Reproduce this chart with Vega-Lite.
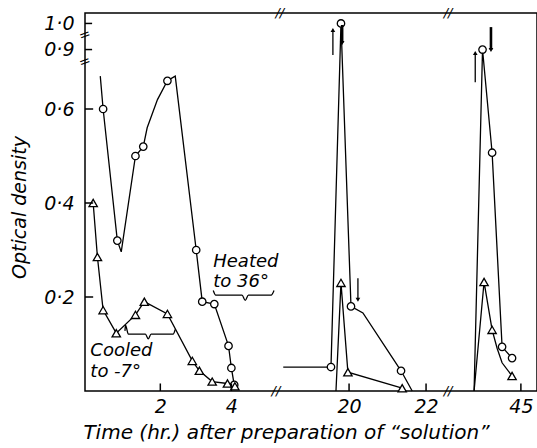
{
  "$schema": "https://vega.github.io/schema/vega-lite/v6.json",
  "width": 452,
  "height": 378,
  "autosize": {"type": "none"},
  "padding": {"left": 85, "top": 13, "right": 0, "bottom": 57},
  "background": "white",
  "view": {"stroke": "black", "strokeWidth": 1.5, "fill": null},
  "config": {
    "font": "DejaVu Sans",
    "axis": {"grid": false, "labelColor": "black", "titleColor": "black"}
  },
  "datasets": {
    "curves": [
      {"series": "circle", "seg": 1, "t": 0.31, "od": 0.67, "obs": false},
      {"series": "circle", "seg": 1, "t": 0.39, "od": 0.60, "obs": true},
      {"series": "circle", "seg": 1, "t": 0.79, "od": 0.32, "obs": true},
      {"series": "circle", "seg": 1, "t": 0.90, "od": 0.296, "obs": false},
      {"series": "circle", "seg": 1, "t": 1.30, "od": 0.50, "obs": true},
      {"series": "circle", "seg": 1, "t": 1.52, "od": 0.52, "obs": true},
      {"series": "circle", "seg": 1, "t": 1.63, "od": 0.56, "obs": false},
      {"series": "circle", "seg": 1, "t": 1.92, "od": 0.62, "obs": false},
      {"series": "circle", "seg": 1, "t": 2.20, "od": 0.66, "obs": true},
      {"series": "circle", "seg": 1, "t": 2.42, "od": 0.67, "obs": false},
      {"series": "circle", "seg": 1, "t": 3.01, "od": 0.30, "obs": true},
      {"series": "circle", "seg": 1, "t": 3.18, "od": 0.19, "obs": true},
      {"series": "circle", "seg": 1, "t": 3.52, "od": 0.185, "obs": true},
      {"series": "circle", "seg": 1, "t": 3.92, "od": 0.096, "obs": true},
      {"series": "circle", "seg": 1, "t": 4.0, "od": 0.049, "obs": true},
      {"series": "circle", "seg": 1, "t": 4.08, "od": 0.013, "obs": true},
      {"series": "triangle", "seg": 1, "t": 0.11, "od": 0.40, "obs": true},
      {"series": "triangle", "seg": 1, "t": 0.23, "od": 0.285, "obs": true},
      {"series": "triangle", "seg": 1, "t": 0.39, "od": 0.172, "obs": true},
      {"series": "triangle", "seg": 1, "t": 0.76, "od": 0.123, "obs": true},
      {"series": "triangle", "seg": 1, "t": 1.30, "od": 0.162, "obs": true},
      {"series": "triangle", "seg": 1, "t": 1.55, "od": 0.19, "obs": true},
      {"series": "triangle", "seg": 1, "t": 2.20, "od": 0.164, "obs": true},
      {"series": "triangle", "seg": 1, "t": 2.90, "od": 0.064, "obs": true},
      {"series": "triangle", "seg": 1, "t": 3.10, "od": 0.043, "obs": true},
      {"series": "triangle", "seg": 1, "t": 3.46, "od": 0.02, "obs": true},
      {"series": "triangle", "seg": 1, "t": 3.89, "od": 0.016, "obs": true},
      {"series": "triangle", "seg": 1, "t": 4.10, "od": 0.01, "obs": true},
      {"series": "circle", "seg": 2, "t": 18.29, "od": 0.051, "obs": false},
      {"series": "circle", "seg": 2, "t": 19.53, "od": 0.051, "obs": true},
      {"series": "circle", "seg": 2, "t": 19.79, "od": 1.0, "obs": true},
      {"series": "circle", "seg": 2, "t": 20.05, "od": 0.18, "obs": true},
      {"series": "circle", "seg": 2, "t": 20.36, "od": 0.166, "obs": false},
      {"series": "circle", "seg": 2, "t": 21.35, "od": 0.043, "obs": true},
      {"series": "circle", "seg": 2, "t": 21.64, "od": 0.0, "obs": false},
      {"series": "triangle", "seg": 2, "t": 19.66, "od": 0.0, "obs": false},
      {"series": "triangle", "seg": 2, "t": 19.79, "od": 0.23, "obs": true},
      {"series": "triangle", "seg": 2, "t": 19.97, "od": 0.04, "obs": true},
      {"series": "triangle", "seg": 2, "t": 21.38, "od": 0.006, "obs": true},
      {"series": "circle", "seg": 3, "t": 43.78, "od": 0.0, "obs": false},
      {"series": "circle", "seg": 3, "t": 44.0, "od": 0.9, "obs": true},
      {"series": "circle", "seg": 3, "t": 44.25, "od": 0.507, "obs": true},
      {"series": "circle", "seg": 3, "t": 44.51, "od": 0.094, "obs": true},
      {"series": "circle", "seg": 3, "t": 44.77, "od": 0.07, "obs": true},
      {"series": "triangle", "seg": 3, "t": 43.78, "od": 0.0, "obs": false},
      {"series": "triangle", "seg": 3, "t": 44.04, "od": 0.232, "obs": true},
      {"series": "triangle", "seg": 3, "t": 44.25, "od": 0.13, "obs": true},
      {"series": "triangle", "seg": 3, "t": 44.38, "od": 0.091, "obs": false},
      {"series": "triangle", "seg": 3, "t": 44.51, "od": 0.06, "obs": false},
      {"series": "triangle", "seg": 3, "t": 44.77, "od": 0.032, "obs": true}
    ],
    "ticks": [
      {"t": 2, "od": 0.0, "t2": 2, "od2": 0.016},
      {"t": 4, "od": 0.0, "t2": 4, "od2": 0.016},
      {"t": 20, "od": 0.0, "t2": 20, "od2": 0.016},
      {"t": 22, "od": 0.0, "t2": 22, "od2": 0.016},
      {"t": 45, "od": 0.0, "t2": 45, "od2": 0.016},
      {"t": -0.12, "od": 0.2, "t2": 0.11, "od2": 0.2},
      {"t": -0.12, "od": 0.4, "t2": 0.11, "od2": 0.4},
      {"t": -0.12, "od": 0.6, "t2": 0.11, "od2": 0.6},
      {"t": -0.12, "od": 0.9, "t2": 0.08, "od2": 0.9},
      {"t": -0.12, "od": 1.0, "t2": 0.08, "od2": 1.0}
    ],
    "braces": [
      {"brace": "heated", "t": 3.49, "od": 0.214},
      {"brace": "heated", "t": 3.56, "od": 0.204},
      {"brace": "heated", "t": 4.30, "od": 0.204},
      {"brace": "heated", "t": 4.39, "od": 0.193},
      {"brace": "heated", "t": 4.48, "od": 0.204},
      {"brace": "heated", "t": 5.12, "od": 0.204},
      {"brace": "heated", "t": 5.2, "od": 0.214},
      {"brace": "cooled", "t": 1.02, "od": 0.14},
      {"brace": "cooled", "t": 1.005, "od": 0.128},
      {"brace": "cooled", "t": 1.1, "od": 0.121},
      {"brace": "cooled", "t": 1.58, "od": 0.121},
      {"brace": "cooled", "t": 1.66, "od": 0.111},
      {"brace": "cooled", "t": 1.74, "od": 0.121},
      {"brace": "cooled", "t": 2.36, "od": 0.121},
      {"brace": "cooled", "t": 2.42, "od": 0.131}
    ],
    "notes": [
      {"text": "Heated", "t": 3.49, "od": 0.264},
      {"text": "to 36°", "t": 3.49, "od": 0.222},
      {"text": "Cooled", "t": 0.03, "od": 0.074},
      {"text": "to -7°", "t": 0.03, "od": 0.03}
    ],
    "arrows": [
      {"dir": "up", "t": 19.58, "tail": 0.879, "head": 0.975, "weight": "thin"},
      {"dir": "down", "t": 19.82, "tail": 0.994, "head": 0.925, "weight": "thick"},
      {"dir": "down", "t": 20.23, "tail": 0.240, "head": 0.194, "weight": "thin"},
      {"dir": "up", "t": 43.81, "tail": 0.657, "head": 0.887, "weight": "thin"},
      {"dir": "down", "t": 44.22, "tail": 0.986, "head": 0.898, "weight": "thick"}
    ],
    "breaks": [
      {"mark": "//", "t": 18.1, "od": 0.0},
      {"mark": "//", "t": 22.57, "od": 0.0},
      {"mark": "//", "t": 18.2, "od": 1.04},
      {"mark": "//", "t": 22.6, "od": 1.04}
    ],
    "ybreaks": [
      {"mark": "=", "t": -0.12, "od": 0.7},
      {"mark": "=", "t": -0.12, "od": 0.955}
    ]
  },
  "encoding": {
    "x": {
      "field": "t", "type": "quantitative",
      "scale": {"domain": [-0.12, 5.2, 18.05, 22.57, 43.1, 45.42], "range": [0, 189, 189, 363, 363, 452], "zero": false, "nice": false},
      "axis": {
        "domain": false, "ticks": false,
        "values": [2, 4, 20, 22, 45],
        "labelExpr": "format(datum.value, 'd')",
        "labelPadding": 6,
        "labelFont": "DejaVu Sans", "labelFontStyle": "italic", "labelFontSize": 19,
        "title": "Time (hr.) after preparation of “solution”",
        "titleFont": "DejaVu Sans", "titleFontStyle": "italic", "titleFontWeight": "normal", "titleFontSize": 20,
        "titleX": 201, "titleY": 47, "titleBaseline": "alphabetic"
      }
    },
    "y": {
      "field": "od", "type": "quantitative",
      "scale": {"domain": [0, 0.7, 0.86, 1.04], "range": [378, 49, 47, 0], "zero": false, "nice": false},
      "axis": {
        "domain": false, "ticks": false,
        "values": [0.2, 0.4, 0.6, 0.9, 1.0],
        "labelExpr": "replace(format(datum.value, '.1f'), '.', '·')",
        "labelPadding": 11,
        "labelFont": "DejaVu Sans", "labelFontStyle": "italic", "labelFontSize": 19,
        "title": "Optical density",
        "titleFont": "DejaVu Sans", "titleFontStyle": "italic", "titleFontWeight": "normal", "titleFontSize": 19,
        "titleX": -66, "titleY": 194, "titleAngle": -90, "titleBaseline": "middle", "titleAlign": "center"
      }
    }
  },
  "layer": [
    {
      "data": {"name": "curves"},
      "transform": [{"filter": "datum.seg == 1"}],
      "mark": {"type": "line", "color": "black", "strokeWidth": 1.3},
      "encoding": {"detail": {"field": "series", "type": "nominal"}}
    },
    {
      "data": {"name": "curves"},
      "transform": [{"filter": "datum.seg == 2"}],
      "mark": {"type": "line", "color": "black", "strokeWidth": 1.3},
      "encoding": {"detail": {"field": "series", "type": "nominal"}}
    },
    {
      "data": {"name": "curves"},
      "transform": [{"filter": "datum.seg == 3"}],
      "mark": {"type": "line", "color": "black", "strokeWidth": 1.3},
      "encoding": {"detail": {"field": "series", "type": "nominal"}}
    },
    {
      "data": {"name": "curves"},
      "transform": [{"filter": "datum.obs && datum.series == 'circle'"}],
      "mark": {"type": "point", "shape": "circle", "filled": true, "fill": "white", "stroke": "black", "strokeWidth": 1.3, "size": 55, "opacity": 1}
    },
    {
      "data": {"name": "curves"},
      "transform": [{"filter": "datum.obs && datum.series == 'triangle'"}],
      "mark": {"type": "point", "shape": "triangle-up", "filled": true, "fill": "white", "stroke": "black", "strokeWidth": 1.3, "size": 70, "opacity": 1}
    },
    {
      "data": {"name": "braces"},
      "mark": {"type": "line", "color": "black", "strokeWidth": 1.3, "interpolate": "monotone"},
      "encoding": {"detail": {"field": "brace", "type": "nominal"}}
    },
    {
      "data": {"name": "notes"},
      "mark": {"type": "text", "align": "left", "baseline": "alphabetic", "font": "DejaVu Sans", "fontStyle": "italic", "fontSize": 18, "color": "black"},
      "encoding": {"text": {"field": "text", "type": "nominal"}}
    },
    {
      "data": {"name": "arrows"},
      "mark": {"type": "rule", "color": "black"},
      "encoding": {
        "y": {"field": "tail", "type": "quantitative"},
        "y2": {"field": "head"},
        "strokeWidth": {"field": "weight", "type": "nominal", "legend": null, "scale": {"domain": ["thin", "thick"], "range": [1.3, 2.6]}}
      }
    },
    {
      "data": {"name": "arrows"},
      "mark": {"type": "point", "filled": true, "color": "black", "opacity": 1, "size": 22},
      "encoding": {
        "y": {"field": "head", "type": "quantitative"},
        "shape": {"field": "dir", "type": "nominal", "legend": null, "scale": {"domain": ["up", "down"], "range": ["triangle-up", "triangle-down"]}}
      }
    },
    {
      "data": {"name": "ticks"},
      "mark": {"type": "rule", "color": "black", "strokeWidth": 1.5},
      "encoding": {"x2": {"field": "t2"}, "y2": {"field": "od2"}}
    },
    {
      "data": {"name": "breaks"},
      "mark": {"type": "text", "align": "center", "baseline": "middle", "font": "DejaVu Sans", "fontStyle": "italic", "fontSize": 13, "color": "black"},
      "encoding": {"text": {"field": "mark", "type": "nominal"}}
    },
    {
      "data": {"name": "ybreaks"},
      "mark": {"type": "text", "align": "center", "baseline": "middle", "font": "DejaVu Sans", "fontSize": 14, "color": "black", "angle": 340},
      "encoding": {"text": {"field": "mark", "type": "nominal"}}
    }
  ]
}
